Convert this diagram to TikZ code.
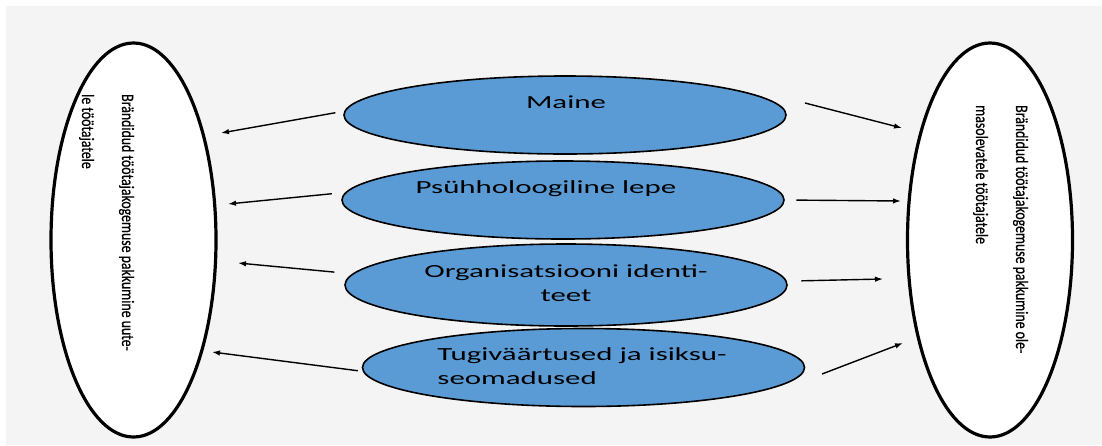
\documentclass[tikz,border=0pt]{standalone}
\usepackage{fontspec}
\usetikzlibrary{shapes.geometric,arrows.meta}
\newfontfamily\widefont[FakeStretch=1.67]{Carlito}
\newfontfamily\narrowfont[FakeStretch=0.79, FakeBold=0.6]{Carlito}
\definecolor{bgray}{HTML}{F4F4F4}
\definecolor{oblue}{HTML}{5B9BD5}

\begin{document}
\begin{tikzpicture}[x=1pt, y=-1pt,
    bigoval/.style={ellipse, draw, line width=3.2pt, fill=white, inner sep=0pt, minimum width=165pt, minimum height=394pt},
    blueoval/.style={ellipse, draw, line width=1.6pt, fill=oblue, inner sep=0pt, minimum width=442pt, minimum height=78pt},
    ovaltext/.style={inner sep=0pt, anchor=base, font=\widefont\fontsize{18.5}{23.5}\selectfont},
    sidetext/.style={inner sep=0pt, rotate=-90, anchor=base west, align=left, font=\narrowfont\fontsize{17.5}{40}\selectfont},
    arr/.style={line width=1.4pt, -{Latex[length=8pt, width=5.5pt]}}]
        \useasboundingbox (0,0) rectangle (1102,445);
        \fill [white] (0,0) rectangle (1102,445);
        \fill [bgray] (6,6) rectangle (1102,445);
        % outer ovals
        \node [bigoval] (leftoval) at (133.5,240) {};
        \node [bigoval] (rightoval) at (990,240) {};
        \node [sidetext] (lefttext) at (82,94) {Brändidud töötajakogemuse pakkumine uute-\\le töötajatele};
        \node [sidetext] (righttext) at (976,105) {Brändidud töötajakogemuse pakkumine ole-\\masolevatele töötajatele};
        % middle ovals
        \node [blueoval] (maine) at (565,115) {};
        \node [blueoval] (lepe) at (563,200) {};
        \node [blueoval, minimum height=82pt] (ident) at (566,285) {};
        \node [blueoval] (vaartus) at (583.5,367.5) {};
        \node [ovaltext] (mainetext) at (566,108) {Maine};
        \node [ovaltext] (lepetext) at (546,193) {Psühholoogiline lepe};
        \node [ovaltext, align=center] (identtext) at (566,301) {Organisatsiooni identi-\\teet};
        \node [ovaltext, align=left] (vaartustext) at (582,384) {Tugiväärtused ja isiksu-\\seomadused};
        % arrow ends
        \coordinate (l1) at (221,133);
        \coordinate (l2) at (228,204);
        \coordinate (l3) at (238,263);
        \coordinate (l4) at (212,352);
        \coordinate (r1) at (902,128);
        \coordinate (r2) at (901,201);
        \coordinate (r3) at (883,279);
        \coordinate (r4) at (903,343);
        \coordinate (t1) at (805,103);
        \coordinate (t4) at (822,374);
        \draw [arr, shorten <=9pt] (maine.179) -- (l1);
        \draw [arr, shorten <=13.5pt] (lepe.178) -- (l2);
        \draw [arr, shorten <=18pt] (ident.177) -- (l3);
        \draw [arr, shorten <=5pt] (vaartus.181) -- (l4);
        \draw [arr] (t1) -- (r1);
        \draw [arr, shorten <=11.5pt] (lepe.east) -- (r2);
        \draw [arr, shorten <=14.5pt] (ident.1) -- (r3);
        \draw [arr] (t4) -- (r4);
    \end{tikzpicture}
\end{document}
